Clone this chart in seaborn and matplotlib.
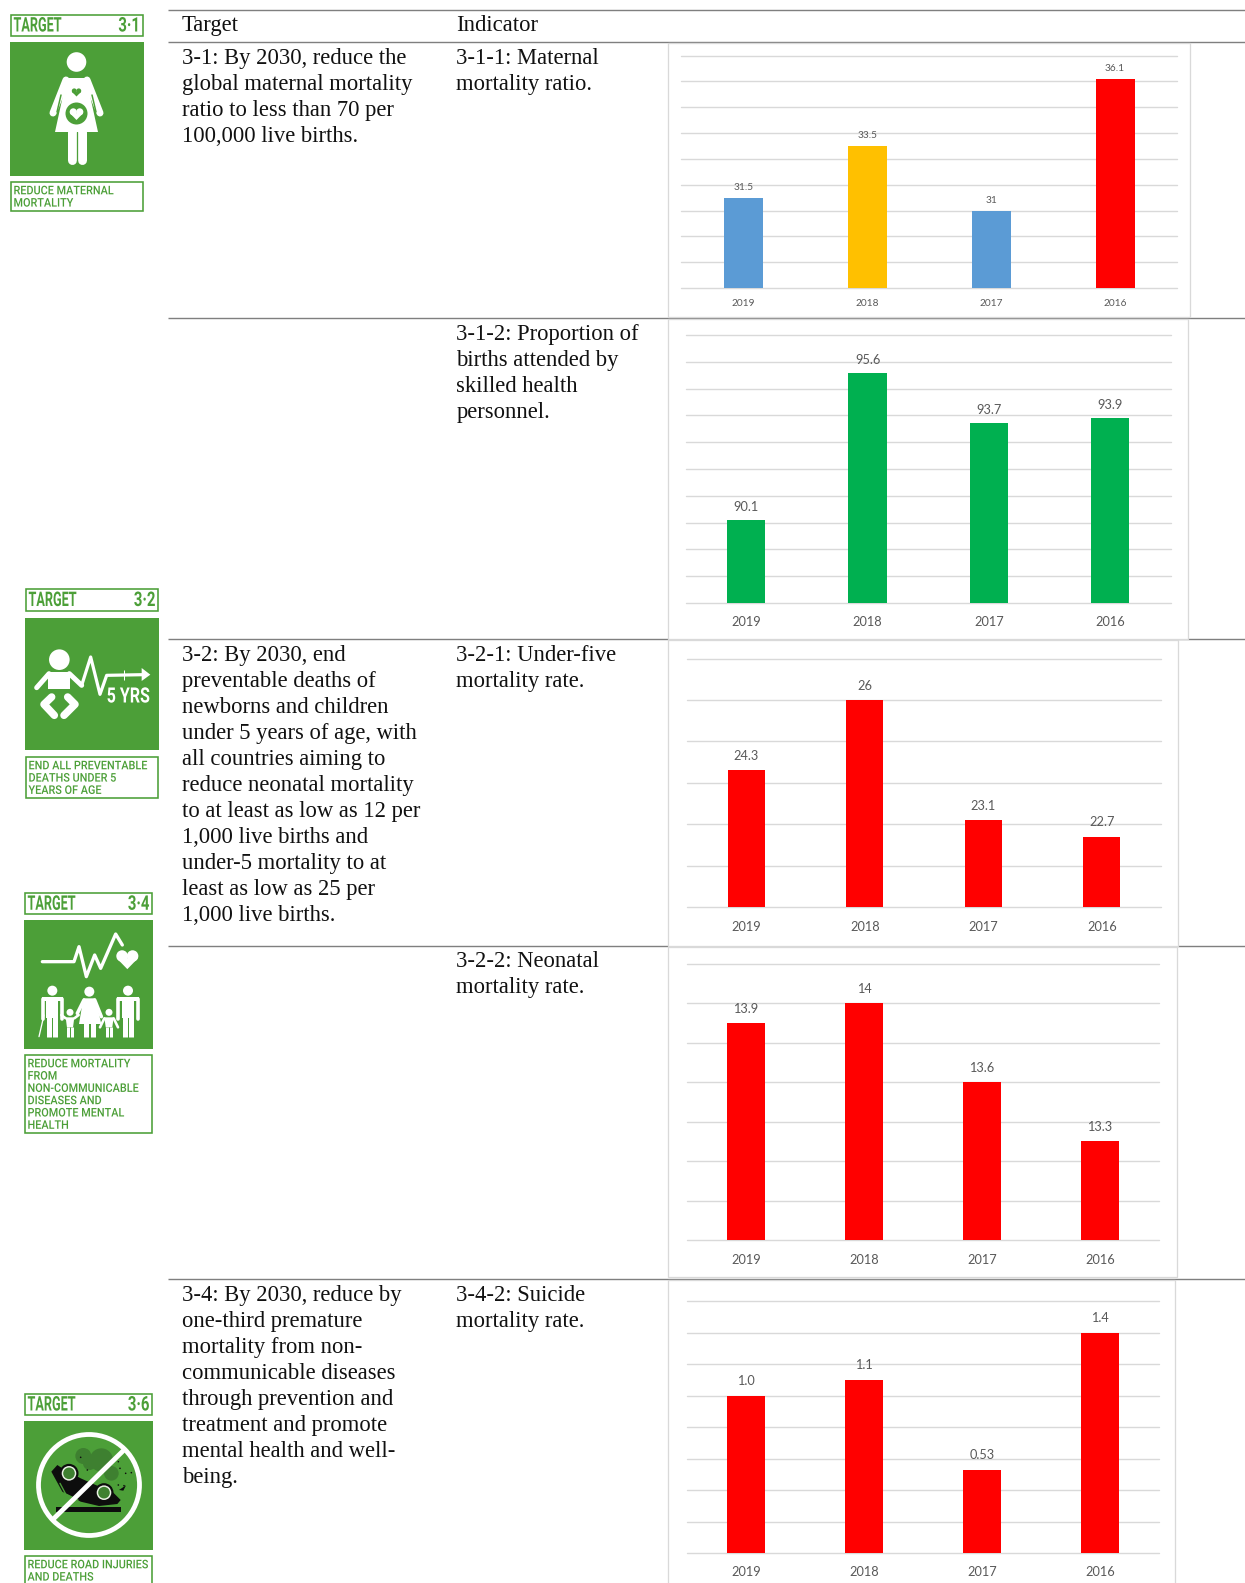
import matplotlib
matplotlib.use("Agg")
import matplotlib.pyplot as plt
import seaborn as sns
from matplotlib.patches import Rectangle, Ellipse, Polygon
from matplotlib.patheffects import AbstractPathEffect
from matplotlib.transforms import Affine2D

years = ["2019", "2018", "2017", "2016"]

maternal = [31.5, 33.5, 31.0, 36.1]
maternal_labels = ["31.5", "33.5", "31", "36.1"]
maternal_colors = ["#5B9BD5", "#FFC000", "#5B9BD5", "#FF0000"]

births = [90.1, 95.6, 93.7, 93.9]
births_labels = ["90.1", "95.6", "93.7", "93.9"]
births_colors = ["#00B050"] * 4

under5 = [24.3, 26.0, 23.1, 22.7]
under5_labels = ["24.3", "26", "23.1", "22.7"]
under5_colors = ["#FF0000"] * 4

neonatal = [13.9, 14.0, 13.6, 13.3]
neonatal_labels = ["13.9", "14", "13.6", "13.3"]
neonatal_colors = ["#FF0000"] * 4

suicide = [1.0, 1.1, 0.53, 1.4]
suicide_labels = ["1.0", "1.1", "0.53", "1.4"]
suicide_colors = ["#FF0000"] * 4

target_31 = ["3-1: By 2030, reduce the", "global maternal mortality", "ratio to less than 70 per", "100,000 live births."]
target_32 = ["3-2: By 2030, end", "preventable deaths of", "newborns and children", "under 5 years of age, with",
             "all countries aiming to", "reduce neonatal mortality", "to at least as low as 12 per",
             "1,000 live births and", "under-5 mortality to at", "least as low as 25 per", "1,000 live births."]
target_34 = ["3-4: By 2030, reduce by", "one-third premature", "mortality from non-", "communicable diseases",
             "through prevention and", "treatment and promote", "mental health and well-", "being."]
ind_311 = ["3-1-1: Maternal", "mortality ratio."]
ind_312 = ["3-1-2: Proportion of", "births attended by", "skilled health", "personnel."]
ind_321 = ["3-2-1: Under-five", "mortality rate."]
ind_322 = ["3-2-2: Neonatal", "mortality rate."]
ind_342 = ["3-4-2: Suicide", "mortality rate."]

W, H = 1245, 1583
sns.set_theme(style="white")
NARROW = "Roboto"
LABEL = "Lato"
plt.rcParams["font.family"] = ["Liberation Serif", "DejaVu Sans"]

GREEN = "#4C9F38"
DARK = "#3E8030"
fig = plt.figure(figsize=(W / 100, H / 100), dpi=100, facecolor="white")
bg = fig.add_axes([0, 0, 1, 1], zorder=0)
bg.set_xlim(0, W)
bg.set_ylim(H, 0)
bg.axis("off")


def px(v):
    return v * 0.72


class Squeeze(AbstractPathEffect):
    """Narrow a text horizontally about its anchor, as no condensed family is installed."""

    def __init__(self, factor, anchor):
        super().__init__()
        self.factor = factor
        self.anchor = anchor

    def draw_path(self, renderer, gc, tpath, affine, rgbFace=None):
        squeezed = affine + Affine2D().translate(-self.anchor, 0).scale(self.factor, 1).translate(self.anchor, 0)
        renderer.draw_path(gc, tpath, squeezed, rgbFace)


def narrow_text(x, y, s, size, factor, color, weight="normal", ha="left", va="center", z=5):
    t = bg.text(x, y, s, family=NARROW, weight=weight, fontsize=size, color=color, ha=ha, va=va, zorder=z)
    t.set_path_effects([Squeeze(factor, x)])
    return t


# table rules
for y in [9.5, 42, 317.5, 638.5, 945.5, 1278.5]:
    bg.plot([168, W], [y, y], color="#7F7F7F", lw=px(1.4), solid_capstyle="butt", zorder=1)

SERIF = 16.25


def block(x, y, lines):
    for i, line in enumerate(lines):
        bg.text(x, y + i * 25.95, line, fontsize=SERIF, color="#111111", va="baseline", ha="left", zorder=5)


block(182, 31, ["Target"])
block(456.2, 31, ["Indicator"])
block(182, 64, target_31)
block(456.2, 64, ind_311)
block(456.2, 340, ind_312)
block(182, 661, target_32)
block(456.2, 661, ind_321)
block(456.2, 967, ind_322)
block(182, 1301, target_34)
block(456.2, 1301, ind_342)


def chart(frame, plot, values, labels, colors, ylim, step, lab_size, tick_pad, lab_pad):
    fx0, fy0, fx1, fy1 = frame
    bg.add_patch(Rectangle((fx0, fy0), fx1 - fx0, fy1 - fy0, fc="white", ec="#D9D9D9", lw=px(1.3), zorder=2))
    x0, y0, x1, y1, ratio = plot
    ax = fig.add_axes([x0 / W, 1 - y1 / H, (x1 - x0) / W, (y1 - y0) / H], zorder=3)
    ax.patch.set_alpha(0)
    sns.barplot(x=years, y=values, hue=years, palette=colors, width=ratio, legend=False, saturation=1,
                order=years, hue_order=years, dodge=False, ax=ax, edgecolor="none", linewidth=0)
    ax.set_xlim(-0.5, 3.5)
    ax.set_ylim(*ylim)
    n = int(round((ylim[1] - ylim[0]) / step))
    ax.set_yticks([ylim[0] + i * step for i in range(n + 1)])
    ax.tick_params(axis="y", left=False, labelleft=False)
    ax.tick_params(axis="x", length=0, pad=tick_pad, labelsize=lab_size, labelcolor="#595959")
    for t in ax.get_xticklabels():
        t.set_fontfamily(LABEL)
    ax.grid(axis="y", color="#D9D9D9", lw=px(1.4))
    for g in ax.get_ygridlines():
        g.set_clip_on(False)
    ax.set_axisbelow(True)
    for s in ax.spines.values():
        s.set_visible(False)
    ax.set_xlabel("")
    ax.set_ylabel("")
    for cont, lab in zip([c for c in ax.containers if len(c)], labels):
        ax.bar_label(cont, labels=[lab], padding=lab_pad, fontsize=lab_size, color="#595959",
                     fontfamily=LABEL, clip_on=False)
    return ax


chart((668, 42.5, 1190, 317), (681.5, 55.5, 1177, 288, 0.315), maternal, maternal_labels, maternal_colors,
      (28, 37), 1, 7.3, 8, 4)
chart((668, 319, 1187.5, 638.5), (685.5, 335, 1171, 603, 0.315), births, births_labels, births_colors,
      (87, 97), 1, 9.2, 9.5, 5)
chart((668, 639.5, 1178, 945.5), (687, 658.5, 1161, 907, 0.315), under5, under5_labels, under5_colors,
      (21, 27), 1, 9.2, 10, 6)
chart((668, 946.5, 1177, 1277), (687, 964, 1159, 1240, 0.315), neonatal, neonatal_labels, neonatal_colors,
      (12.8, 14.2), 0.2, 9.2, 10, 6)
chart((668, 1279.5, 1175, H + 5), (687, 1301, 1159, 1553, 0.315), suicide, suicide_labels, suicide_colors,
      (0, 1.6), 0.2, 9.2, 9.5, 6)


def box(x0, y0, x1, y1):
    bg.add_patch(Rectangle((x0 + .75, y0 + .75), x1 - x0 - 1.5, y1 - y0 - 1.5, fc="white",
                           ec=GREEN, lw=px(1.6), zorder=3))


def ln(points, w, color="white", cap="round", z=4):
    xs, ys = zip(*points)
    bg.plot(xs, ys, color=color, lw=px(w), solid_capstyle=cap, solid_joinstyle="round", zorder=z)


def disc(x, y, r, color="white", z=4):
    bg.add_patch(Ellipse((x, y), 2 * r, 2 * r, fc=color, ec="none", zorder=z))


def poly(pts, color="white", z=4):
    bg.add_patch(Polygon(pts, closed=True, fc=color, ec="none", zorder=z))


def heart(x, y, r, color, z=5):
    disc(x - r * .5, y - r * .25, r * .55, color, z)
    disc(x + r * .5, y - r * .25, r * .55, color, z)
    poly([(x - r * 1.02, y - r * .05), (x + r * 1.02, y - r * .05), (x, y + r)], color, z)


def icon(x0, x1, y0, y1, y2, y3, y4, y5, number, caption):
    box(x0, y0, x1, y1)
    poly([(x0, y2), (x1, y2), (x1, y3), (x0, y3)], GREEN, 3)
    box(x0, y4, x1, y5)
    mid = (y0 + y1) / 2 + .5
    narrow_text(x0 + 3.5, mid, "TARGET", 14.5, 0.63, GREEN, "bold")
    narrow_text(x1 - 3.5, mid, number, 14.5, 0.74, GREEN, "bold", ha="right")
    for i, line in enumerate(caption):
        narrow_text(x0 + 3.5, y4 + 13.3 + i * 12.3, line, 8.6, 0.91, GREEN, "medium", va="baseline")


# Target 3-1
icon(10, 143.5, 14, 37, 42, 176, 181, 212, "3\u00b71", ["REDUCE MATERNAL", "MORTALITY"])
disc(76.5, 62, 9.8)
poly([(65, 78), (88, 78), (91, 100), (98, 132), (55, 132), (62, 100)])
ln([(66, 80), (53, 113)], 7)
ln([(87, 80), (100, 113)], 7)
ln([(61, 95), (57, 112)], 1.5, GREEN, z=5)
ln([(92, 95), (96, 112)], 1.5, GREEN, z=5)
ln([(71.5, 132), (71.5, 160)], 9)
ln([(81.5, 132), (81.5, 160)], 9)
ln([(76.5, 132), (76.5, 165)], 1.3, GREEN, "butt", 5)
heart(76.5, 92, 4.5, GREEN)
disc(76.5, 113.5, 11, GREEN, 5)
heart(76.5, 113.5, 6.5, "white", 6)


def zoomed(ox, oy):
    return lambda *pts: [(ox + a / 3, oy + b / 3) for a, b in pts]


# Target 3-2
icon(25, 159, 588, 612, 617.5, 750, 756, 799, "3\u00b72",
     ["END ALL PREVENTABLE", "DEATHS UNDER 5", "YEARS OF AGE"])
z = zoomed(25, 617)
(hx, hy), = z((103, 128))
disc(hx, hy, 10.3)
poly(z((70, 165), (135, 165), (135, 215), (70, 215)))
ln(z((72, 170), (35, 212)), 5)
ln(z((133, 170), (170, 205)), 5)
ln(z((170, 205), (197, 120), (225, 232), (245, 175), (355, 173)), 3.2)
ln(z((298, 158), (298, 188)), 1, cap="butt")
poly(z((350, 153), (376, 173), (350, 192)))
ln(z((80, 240), (57, 262), (88, 295)), 7.5)
ln(z((128, 240), (150, 262), (117, 295)), 7.5)
(tx, ty), = z((375, 240))
narrow_text(tx, ty, "5 YRS", 15.2, 0.76, "white", "bold", ha="right")

# Target 3-4
icon(24, 153, 892.5, 915, 920, 1049, 1054, 1133.5, "3\u00b74",
     ["REDUCE MORTALITY", "FROM", "NON-COMMUNICABLE", "DISEASES AND", "PROMOTE MENTAL", "HEALTH"])
z = zoomed(24, 920)
ln(z((55, 125), (150, 125), (165, 80), (187, 170), (212, 105), (230, 145), (275, 42), (295, 75)), 3.3)
(hx, hy), = z((310, 116))
heart(hx, hy, 10.5, "white")


def adult(cx):
    (x, y), = z((cx, 212))
    disc(x, y, 5)
    poly(z((cx - 32, 230), (cx + 32, 230), (cx + 32, 243), (cx + 18, 243), (cx + 18, 295), (cx - 18, 295),
           (cx - 18, 243), (cx - 32, 243)))
    ln(z((cx - 29, 238), (cx - 29, 296)), 3.6)
    ln(z((cx + 29, 238), (cx + 29, 296)), 3.6)
    ln(z((cx - 9, 290), (cx - 9, 350)), 5, cap="butt")
    ln(z((cx + 9, 290), (cx + 9, 350)), 5, cap="butt")


def child(cx, w):
    (x, y), = z((cx, 277))
    disc(x, y, 3.5)
    poly(z((cx - w, 292), (cx + w, 292), (cx + w * .7, 322), (cx - w * .7, 322)))
    ln(z((cx - 5, 320), (cx - 5, 350)), 3, cap="butt")
    ln(z((cx + 5, 320), (cx + 5, 350)), 3, cap="butt")
    ln(z((cx - w, 295), (cx - w - 13, 322 if cx > 200 else 285)), 2.6)
    ln(z((cx + w, 295), (cx + w + 13, 322 if cx > 200 else 285)), 2.6)


adult(85)
adult(312)
(x, y), = z((196, 215))
disc(x, y, 5)
poly(z((178, 235), (214, 235), (232, 312), (165, 312)))
ln(z((180, 240), (160, 280)), 3.6)
ln(z((212, 240), (232, 290)), 3.6)
ln(z((185, 310), (185, 350)), 5, cap="butt")
ln(z((207, 310), (207, 350)), 5, cap="butt")
child(138, 13)
child(255, 14)
ln(z((60, 285), (45, 350)), 1.3)

# Target 3-6
icon(24, 153, 1393, 1416, 1421, 1550, 1555, 1590, "3\u00b76", ["REDUCE ROAD INJURIES", "AND DEATHS"])
z = zoomed(24, 1420)
for cx, cy, r in [(178, 108, 24), (232, 120, 35), (197, 130, 20), (262, 160, 22)]:
    (x, y), = z((cx, cy))
    disc(x, y, r / 3, DARK)
poly(z((100, 135), (115, 145), (170, 175), (215, 195), (265, 215), (290, 240), (280, 252), (225, 258),
       (170, 245), (115, 215), (82, 155)), "#0D0D0D")
ln(z((108, 190), (125, 222), (162, 240)), 1.4, GREEN, z=5)
for cx, cy in [(135, 160), (240, 218)]:
    (x, y), = z((cx, cy))
    disc(x, y, 9.5, "#0D0D0D", 5)
    disc(x, y, 7.3, "#EAF2E5", 5)
    disc(x, y, 5.8, DARK, 6)
poly(z((95, 260), (291, 260), (291, 275), (95, 275)), "#0D0D0D")
for dot in z((283, 125), (305, 160), (322, 158), (283, 195), (300, 197), (288, 145), (170, 112), (190, 150)):
    disc(dot[0], dot[1], .8, "#0D0D0D")
poly(z((285, 210), (306, 196), (298, 212)), "#0D0D0D")
ln(z((85, 300), (300, 90)), 4.8, "white", "butt", 7)
(cx, cy), = z((195, 195))
bg.add_patch(Ellipse((cx, cy), 101, 101, fc="none", ec="white", lw=px(4.8), zorder=7))

fig.savefig("out.png", dpi=100, facecolor="white")
